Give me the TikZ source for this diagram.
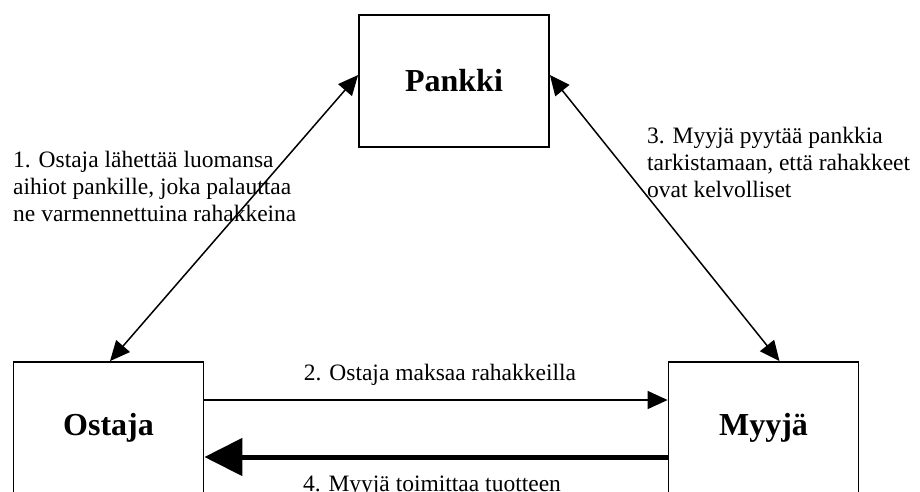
\documentclass[tikz,border=0pt]{standalone}
\usepackage{fontspec}
\setmainfont{Liberation Serif}
\usetikzlibrary{arrows.meta}
\begin{document}
\begin{tikzpicture}[x=1pt,y=-1pt,
  party/.style={draw, line width=1.8pt, minimum width=190pt, minimum height=132pt,
    inner sep=0pt, font=\fontsize{32}{36}\selectfont\bfseries},
  note/.style={inner sep=0pt, align=left, font=\fontsize{23.5}{26.8}\selectfont},
  flow/.style={line width=1.5pt, -{Triangle[length=20pt,width=18pt]}},
  twoway/.style={line width=1.5pt, {Triangle[length=20pt,width=18pt]}-{Triangle[length=20pt,width=18pt]}},
  heavy/.style={line width=5pt, -{Triangle[length=38pt,width=37pt]}}]
\path[use as bounding box, clip] (0,0) rectangle (920,491);
\fill[white] (0,0) rectangle (920,491);

% the three parties
\node[party] (pankki) at (454,81) {Pankki};
\node[party] (ostaja) at (108.5,428) {Ostaja};
\node[party] (myyja) at (763.5,428) {Myyjä};

% exchanges with the bank
\draw[twoway] ([yshift=6pt]pankki.west) -- ([xshift=1.5pt]ostaja.north);
\draw[twoway] ([yshift=6pt]pankki.east) -- ([xshift=16pt]myyja.north);

% payment and delivery
\draw[flow] ([yshift=28pt]ostaja.east) -- ([yshift=28pt]myyja.west);
\draw[heavy] ([yshift=-29pt]myyja.west) -- ([yshift=-29pt]ostaja.east);

% step descriptions (base anchor sits on the last line)
\node[note, anchor=base west] (s1) at (13,221)
  {1. Ostaja lähettää luomansa\\aihiot pankille, joka palauttaa\\ne varmennettuina rahakkeina};
\node[note, anchor=base west] (s3) at (647,197)
  {3. Myyjä pyytää pankkia\\tarkistamaan, että rahakkeet\\ovat kelvolliset};
\node[note, anchor=base] (s2) at (440,380) {2. Ostaja maksaa rahakkeilla};
\node[note, anchor=base] (s4) at (432,491) {4. Myyjä toimittaa tuotteen};
\end{tikzpicture}
\end{document}
